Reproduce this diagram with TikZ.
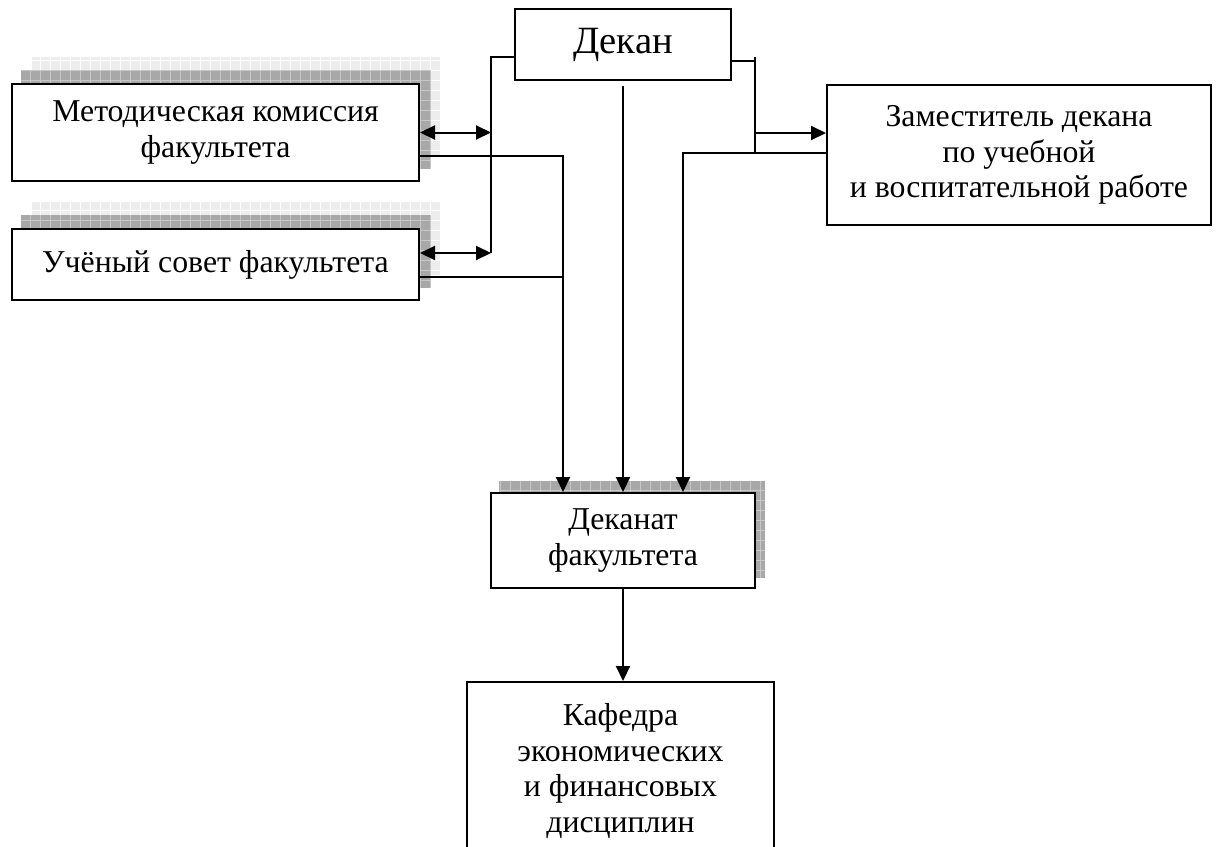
\documentclass[tikz,border=0pt]{standalone}
\usepackage{fontspec}
\setmainfont{Liberation Serif}
\usetikzlibrary{positioning,arrows.meta,backgrounds}

\definecolor{shdark}{gray}{0.66}
\definecolor{shdarkgrid}{gray}{0.78}
\definecolor{shlight}{gray}{0.93}

\tikzset{
  box/.style={draw, line width=2pt, fill=white, align=center, inner sep=0pt,
    font=\fontsize{31.8}{35.5}\selectfont},
  ln/.style={line width=2pt},
  arr/.style={line width=2pt, -{Triangle[length=15pt,width=14pt]}},
  dbl/.style={line width=2pt, {Triangle[length=15pt,width=14pt]}-{Triangle[length=15pt,width=14pt]}},
}

\begin{document}
\begin{tikzpicture}[x=1pt,y=-1pt]
  \useasboundingbox (0,0) rectangle (1218,846);
  \clip (0,0) rectangle (1218,846);

  \node[box, minimum width=216, minimum height=71, font=\fontsize{38.6}{42}\selectfont] (dekan) at (623,44.5) {Декан};
  \node[box, minimum width=407, minimum height=97] (meth) at (215.5,132.5) {Методическая комиссия\\факультета};
  \node[box, minimum width=407, minimum height=71, below=46pt of meth] (sovet) {Учёный совет факультета};
  \node[box, minimum width=384, minimum height=140] (zam) at (1019,155) {Заместитель декана\\по учебной\\и воспитательной работе};
  \node[box, minimum width=264, minimum height=95] (dekanat) at (623,540.5) {Деканат\\факультета};
  \node[box, minimum width=307, minimum height=178] (kafedra) at (620.5,771) {Кафедра\\экономических\\и финансовых\\дисциплин};

  %shadows
  \begin{scope}[on background layer]
    \foreach \n in {meth,sovet}{
      \fill[shlight] ([xshift=21pt,yshift=26pt]\n.south west) rectangle ([xshift=21pt,yshift=26pt]\n.north east);
      \draw[white, step=10pt, line width=0.6pt] ([xshift=21pt,yshift=26pt]\n.south west) grid ([xshift=21pt,yshift=26pt]\n.north east);
      \fill[shdark] ([xshift=10pt,yshift=13pt]\n.south west) rectangle ([xshift=10pt,yshift=13pt]\n.north east);
      \draw[shdarkgrid, step=10pt, line width=0.6pt] ([xshift=10pt,yshift=13pt]\n.south west) grid ([xshift=10pt,yshift=13pt]\n.north east);
    }
    \fill[shdark] ([xshift=9pt,yshift=11pt]dekanat.south west) rectangle ([xshift=9pt,yshift=11pt]dekanat.north east);
    \draw[shdarkgrid, step=10pt, line width=0.6pt] ([xshift=9pt,yshift=11pt]dekanat.south west) grid ([xshift=9pt,yshift=11pt]dekanat.north east);
  \end{scope}

  \coordinate (lbus) at (491,253);
  \coordinate (rtop) at (755,57);
  \coordinate (rbot) at (755,153);
  \coordinate (mx) at ([xshift=-60pt]dekanat.north);
  \coordinate (zx) at ([xshift=60pt]dekanat.north);

  %dekan>meth,sovet
  \draw[ln] ([yshift=-12.5pt]dekan.west) -| (lbus);
  \draw[dbl] (meth.east) -- (meth.east -| lbus);
  \coordinate (sa) at ([yshift=11.5pt]sovet.east);
  \draw[dbl] (sa) -- (sa -| lbus);

  %meth,sovet>dekanat
  \draw[arr] ([yshift=-23.5pt]meth.east) -| (mx);
  \coordinate (sj) at ([yshift=-12.5pt]sovet.east);
  \draw[ln] (sj) -- (sj -| mx);

  %dekan>dekanat
  \draw[arr] ([yshift=-5pt]dekan.south) -- (dekanat.north);

  %dekan>zam
  \coordinate (dr) at ([yshift=-16.5pt]dekan.east);
  \draw[ln] (dr) -- (dr -| rtop);
  \draw[ln] (rtop) -- (rbot);
  \coordinate (zj) at ([yshift=22pt]zam.west);
  \draw[arr] (zj -| rtop) -- (zj);

  %zam>dekanat
  \draw[arr] ([yshift=2pt]zam.west) -| (zx);

  %dekanat>kafedra
  \draw[arr] (dekanat.south) -- (dekanat.south |- kafedra.north);
\end{tikzpicture}
\end{document}
